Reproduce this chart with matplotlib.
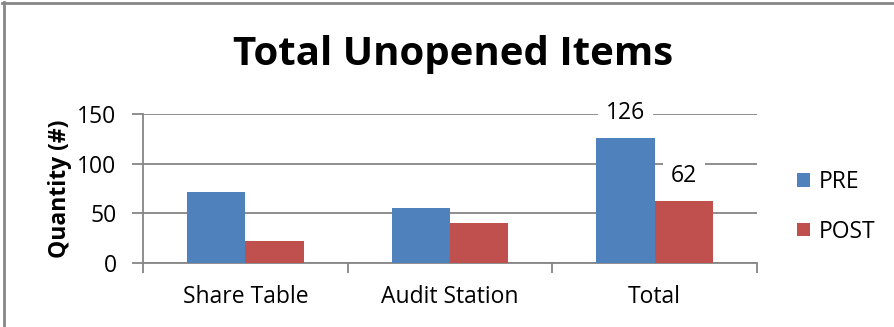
import matplotlib
matplotlib.use("Agg")
import matplotlib.pyplot as plt
import numpy as np

plt.rcParams['font.family'] = ['Open Sans', 'DejaVu Sans']

# item counts before and after, per location
categories = ["Share Table", "Audit Station", "Total"]
pre = [71, 55, 126]
post = [22, 40, 62]
yticks = [0, 50, 100, 150]

blue = "#4f81bd"
red = "#c0504d"
grey = "#868686"
fs = 16.5

W, H = 894, 327
fig = plt.figure(figsize=(W / 100, H / 100), dpi=100)
ax = fig.add_axes([143 / W, 1 - 263 / H, (757 - 143) / W, (263 - 114) / H])

x = np.arange(len(categories))
bw = 0.285
b1 = ax.bar(x - bw / 2, pre, bw, color=blue, label="PRE", zorder=3)
b2 = ax.bar(x + bw / 2, post, bw, color=red, label="POST", zorder=3)

ax.set_xlim(-0.5, len(categories) - 0.5)
ax.set_ylim(0, 150)
ax.set_yticks(yticks)
ax.set_yticklabels([str(v) for v in yticks], fontsize=fs)
ax.yaxis.grid(True, color=grey, linewidth=1.3, zorder=0)
ax.set_axisbelow(True)

# category boundaries carry the tick marks; labels sit in the middle
ax.set_xticks(np.arange(len(categories) + 1) - 0.5)
ax.set_xticklabels([])
ax.set_xticks(x, minor=True)
ax.set_xticklabels(categories, minor=True, fontsize=fs)
ax.tick_params(axis="x", which="minor", length=0, pad=16)
ax.tick_params(axis="x", which="major", length=7, width=1.3, color=grey)
ax.tick_params(axis="y", length=8, width=1.3, color=grey, pad=11)

for s in ["top", "right"]:
    ax.spines[s].set_visible(False)
for s in ["left", "bottom"]:
    ax.spines[s].set_color(grey)
    ax.spines[s].set_linewidth(1.3)

ax.set_ylabel("Quantity (#)", fontsize=fs, fontweight="bold", labelpad=4)

# value labels on the Total bars
for bars, vals in ((b1, pre), (b2, post)):
    bar = bars[-1]
    ax.annotate(str(vals[-1]), (bar.get_x() + bar.get_width() / 2, vals[-1]),
                xytext=(0, 25), textcoords="offset pixels", ha="center", va="center",
                fontsize=fs, zorder=4,
                bbox=dict(boxstyle="square,pad=0.35", fc="white", ec="none"))

fig.text(453 / W, 1 - 54 / H, "Total Unopened Items", ha="center", va="center",
         fontsize=29, fontweight="bold")

fig.legend(handles=[b1, b2], loc="center left", bbox_to_anchor=(797 / W, 1 - 207 / H),
           frameon=False, fontsize=fs, handlelength=0.55, handleheight=0.55,
           handletextpad=0.4, labelspacing=1.1, borderpad=0, borderaxespad=0)

# thin frame along the top and left edges
fig.add_artist(plt.Line2D([2 / W, 1], [1 - 2.5 / H, 1 - 2.5 / H], color=grey, lw=2,
                          transform=fig.transFigure))
fig.add_artist(plt.Line2D([3.5 / W, 3.5 / W], [0, 1 - 2 / H], color=grey, lw=2,
                          transform=fig.transFigure))

fig.savefig("out.png", dpi=100)
